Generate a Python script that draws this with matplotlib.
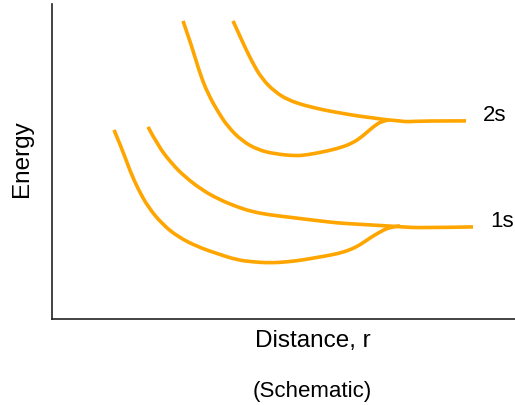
import matplotlib
matplotlib.use("Agg")
import matplotlib.pyplot as plt
from matplotlib.path import Path
from matplotlib.patches import PathPatch

plt.rcParams['font.family'] = ['Liberation Sans', 'DejaVu Sans']

# =========== Data (schematic units) ===========
# 2s: outer curve runs into the flat level, inner curve joins it
s2_outer_r = [181, 190, 200, 210, 223, 236, 251, 255, 271, 288, 305, 321, 335, 348, 355, 368, 414]
s2_outer_e = [298, 278, 257, 240, 227, 219, 214, 213, 209, 206, 203, 201, 199, 198, 197, 198, 198]
s2_inner_r = [131, 140, 148, 156, 166, 176, 190, 206, 223, 243, 255, 271, 288, 301, 311, 321, 330, 337]
s2_inner_e = [298, 272, 245, 225, 207, 192, 178, 169, 165, 163, 164, 167, 171, 176, 183, 192, 198, 199]

# 1s
s1_outer_r = [96, 106, 120, 133, 150, 166, 185, 201, 218, 235, 251, 268, 285, 301, 318, 335, 351, 368, 421]
s1_outer_e = [192, 173, 155, 142, 129, 120, 112, 107, 104, 102, 100, 98, 96, 95, 94, 93, 92, 91, 92]
s1_inner_r = [62, 70, 78, 86, 96, 110, 126, 146, 166, 185, 201, 218, 235, 251, 268, 285, 298, 308, 318, 328, 338, 348]
s1_inner_e = [189, 170, 148, 130, 112, 95, 82, 72, 65, 59, 57, 56, 57, 59, 62, 65, 69, 74, 81, 87, 92, 93]

level_labels = ["2s", "1s"]
label_r = [443, 450]
label_e = [204, 98]


def smooth_curve(ax, xs, ys):
    """Draw the read points as a quadratic spline path (points act as control points)."""
    pts = list(zip(xs, ys))
    verts = [pts[0]]
    codes = [Path.MOVETO]
    for i in range(1, len(pts) - 1):
        if i < len(pts) - 2:
            end = ((pts[i][0] + pts[i + 1][0]) / 2, (pts[i][1] + pts[i + 1][1]) / 2)
        else:
            end = pts[-1]
        verts += [pts[i], end]
        codes += [Path.CURVE3, Path.CURVE3]
    patch = PathPatch(Path(verts, codes), facecolor="none", edgecolor="orange",
                      lw=2.6, capstyle="butt", joinstyle="round")
    ax.add_patch(patch)


# ============ Plot ============
fig = plt.figure(figsize=(5.15, 4.06), dpi=100)
ax = fig.add_axes([0.101, 0.212, 0.899, 0.776])

smooth_curve(ax, s2_outer_r, s2_outer_e)
smooth_curve(ax, s2_inner_r, s2_inner_e)
smooth_curve(ax, s1_outer_r, s1_outer_e)
smooth_curve(ax, s1_inner_r, s1_inner_e)

for lab, r, e in zip(level_labels, label_r, label_e):
    ax.text(r, e, lab, fontsize=16, ha="center", va="center", clip_on=False)

ax.set_xlim(0, 463)
ax.set_ylim(0, 315)
ax.set_xticks([])
ax.set_yticks([])
for side in ["top", "right"]:
    ax.spines[side].set_visible(False)
for side in ["left", "bottom"]:
    ax.spines[side].set_color("#222222")
    ax.spines[side].set_linewidth(1.2)

fig.text(0.043, 0.61, "Energy", rotation=90, fontsize=17.5, ha="center", va="center")
fig.text(0.608, 0.160, "Distance, r", fontsize=17.5, ha="center", va="center")
fig.text(0.606, 0.036, "(Schematic)", fontsize=16, ha="center", va="center")

fig.savefig("out.png", dpi=100)
